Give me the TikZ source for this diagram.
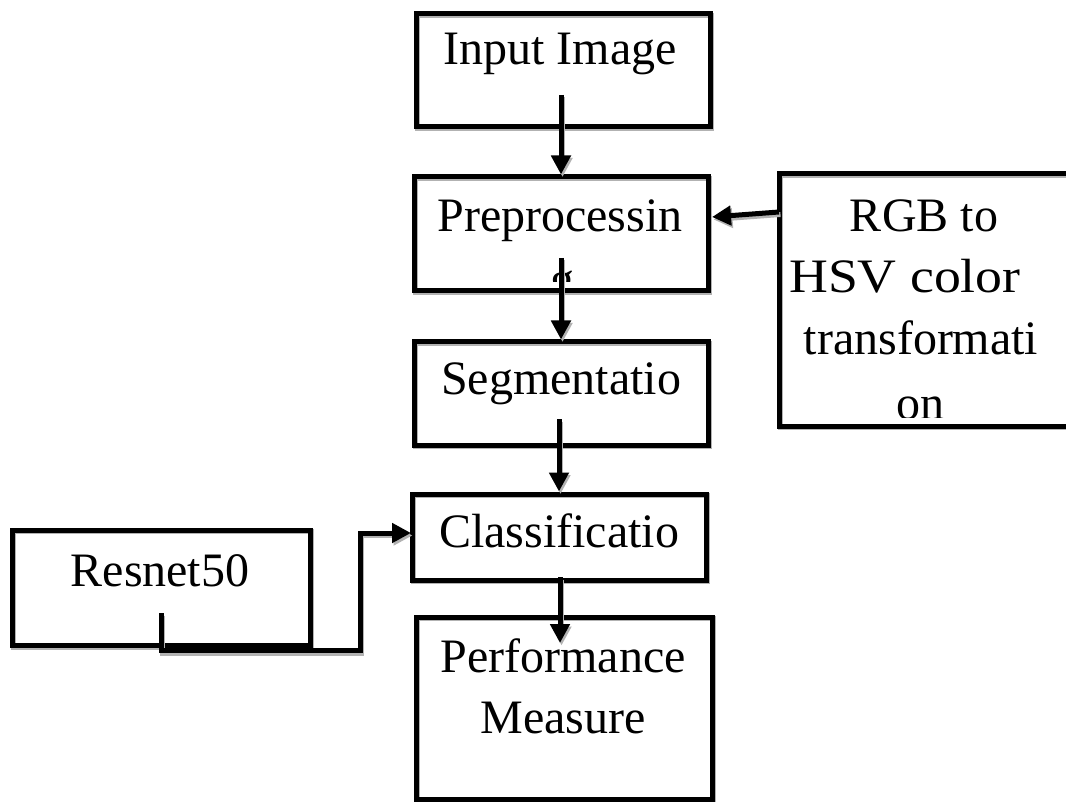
\documentclass[tikz,border=0pt]{standalone}
\usepackage{graphicx}
\usepackage{fontspec}
\setmainfont{Liberation Serif}
\usetikzlibrary{arrows.meta,calc}
\begin{document}
\begin{tikzpicture}[x=1pt,y=-1pt,
  box/.style={draw, line width=5pt, rectangle, inner sep=0pt,
    preaction={draw=gray!60, line width=5pt, transform canvas={shift={(1pt,-1.5pt)}}}},
  lbl/.style={anchor=base, inner sep=0pt, font=\fontsize{48}{62}\selectfont},
  conn/.style={line width=5pt, -{Triangle[length=19pt,width=19pt]},
    preaction={draw=gray!60, line width=5pt, transform canvas={shift={(1.5pt,-2.5pt)}}}},
  link/.style={line width=5pt, -{Triangle[length=19pt,width=19pt]},
    preaction={draw=gray!60, line width=5pt, transform canvas={shift={(1.5pt,-2.5pt)}}}}
]
\useasboundingbox (0,0) rectangle (1066,802);
\fill[white] (0,0) rectangle (1066,802);

% boxes
\node[box, minimum width=294pt, minimum height=113pt] (input) at (563,70.5) {};
\node[box, minimum width=294pt, minimum height=114pt] (pre) at (561,234) {};
\node[box, minimum width=294pt, minimum height=103pt] (seg) at (561,393.5) {};
\node[box, minimum width=294pt, minimum height=86pt] (cls) at (559,537) {};
\node[box, minimum width=296pt, minimum height=182pt] (perf) at (564,708) {};
\node[box, minimum width=297.5pt, minimum height=115.5pt] (res) at (161.25,587.75) {};
\node[box, minimum width=291pt, minimum height=252pt] (rgb) at (924.5,300) {};

% texts
\node[lbl] (tinput) at (560,65) {Input Image};
\node[lbl] (tpre) at (560,232) {Preprocessin};
\begin{scope}
  \clip (416,180) rectangle (706,282);
  \node[lbl] (tpreg) at (562,296) {g};
\end{scope}
\node[lbl] (tseg) at (561,395) {Segmentatio};
\node[lbl] (tcls) at (559,547) {Classificatio};
\node[lbl] (tperf1) at (563,672) {Performance};
\node[lbl] (tperf2) at (563,733) {Measure};
\node[lbl] (tres) at (160,586) {Resnet50};
\node[lbl] (trgb1) at (924,232) {RGB to};
\node[lbl] (trgb2) at (905,293) {\scalebox{1.12}[1]{HSV color}};
\node[lbl] (trgb3) at (921,355) {transformati};
\begin{scope}
  \clip (782,177) rectangle (1066,417);
  \node[lbl] (trgb4) at (920,419.5) {on};
\end{scope}

% connector anchor points
\coordinate (inS) at (561,95);
\coordinate (preS) at (561,258);
\coordinate (segS) at (559,419);
\coordinate (clsS) at (560,577);
\coordinate (perfT) at (560,643);
\coordinate (rgbW) at (779,212);
\coordinate (preE) at (712,217);
\coordinate (resS) at (161,613);
\coordinate (resB) at (161,650.5);
\coordinate (bendA) at (360,650.5);
\coordinate (bendB) at (360,533);
\coordinate (clsW) at (411,533);

% connectors
\draw[conn] (inS) -- (inS |- pre.north);
\draw[conn] (preS) -- (preS |- seg.north);
\draw[conn] (segS) -- (segS |- cls.north);
\draw[conn] (clsS) -- (perfT);
\draw[conn] (rgbW) -- (preE);
\draw[link] (resS) -- (resB) -- (bendA) -- (bendB) -- (clsW);
\end{tikzpicture}
\end{document}
